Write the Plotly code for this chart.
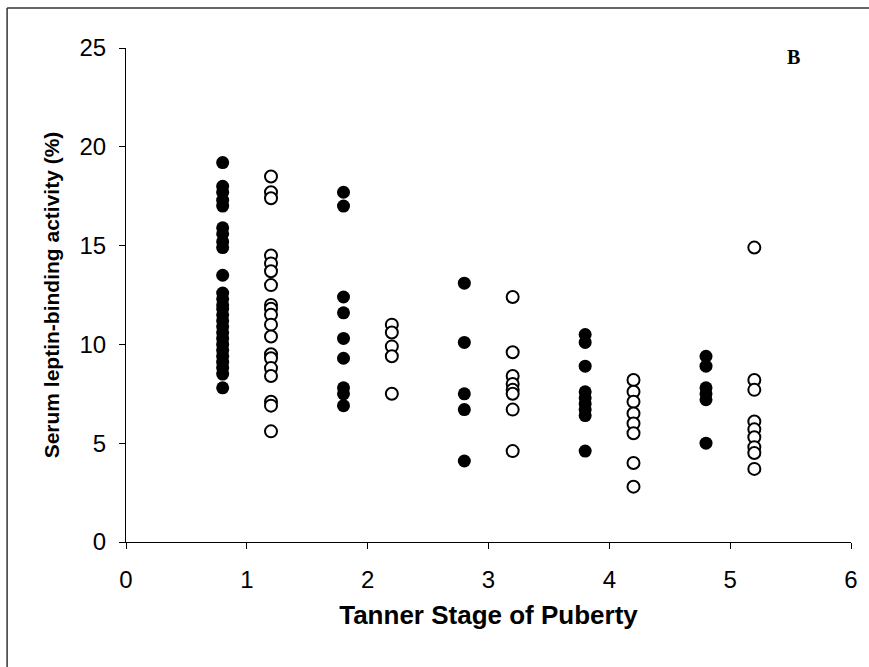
import plotly.graph_objects as go

# Tanner stage groups: filled = one sex, open = the other (offset around each stage)
filled_x = [0.8, 1.8, 2.8, 3.8, 4.8]
filled_y = [
    [19.2, 18.0, 17.7, 17.3, 17.0, 15.9, 15.6, 15.2, 14.9, 13.5,
     12.6, 12.3, 12.0, 11.8, 11.5, 11.2, 10.9, 10.6, 10.3, 10.0,
     9.7, 9.4, 9.1, 8.8, 8.5, 7.8],
    [17.7, 17.0, 12.4, 11.6, 10.3, 9.3, 7.8, 7.5, 6.9],
    [13.1, 10.1, 7.5, 6.7, 4.1],
    [10.5, 10.1, 8.9, 7.6, 7.3, 7.0, 6.7, 6.4, 4.6],
    [9.4, 8.9, 7.8, 7.5, 7.2, 5.0],
]
open_x = [1.2, 2.2, 3.2, 4.2, 5.2]
open_y = [
    [18.5, 17.7, 17.4, 14.5, 14.1, 13.7, 13.0, 12.0, 11.8, 11.5,
     11.0, 10.4, 9.5, 9.3, 8.8, 8.4, 7.1, 6.9, 5.6],
    [11.0, 10.6, 9.9, 9.4, 7.5],
    [12.4, 9.6, 8.4, 8.0, 7.7, 7.5, 6.7, 4.6],
    [8.2, 7.6, 7.1, 6.5, 6.0, 5.5, 4.0, 2.8],
    [14.9, 8.2, 7.7, 6.1, 5.7, 5.3, 4.8, 4.5, 3.7],
]
x_ticks = [0, 1, 2, 3, 4, 5, 6]
y_ticks = [0, 5, 10, 15, 20, 25]

SANS = "Arial, Liberation Sans, sans-serif"


def flatten(xs, ys):
    px, py = [], []
    for x, col in zip(xs, ys):
        px += [x] * len(col)
        py += col
    return px, py


fig = go.Figure()
fx, fy = flatten(filled_x, filled_y)
ox, oy = flatten(open_x, open_y)
fig.add_trace(go.Scatter(x=fx, y=fy, mode="markers", showlegend=False,
                         marker=dict(symbol="circle", size=13, color="black",
                                     line=dict(color="black", width=0))))
fig.add_trace(go.Scatter(x=ox, y=oy, mode="markers", showlegend=False,
                         marker=dict(symbol="circle", size=12, color="white",
                                     line=dict(color="black", width=2))))

axis_kw = dict(showgrid=False, zeroline=False, showline=True, linecolor="black",
               linewidth=1, ticks="outside", ticklen=6, tickcolor="black",
               tickfont=dict(family=SANS, size=24, color="black"))
fig.update_xaxes(range=[0, 6], tickvals=x_ticks, ticklabelstandoff=10, **axis_kw,
                 title=dict(text="<b>Tanner Stage of Puberty</b>", standoff=14,
                            font=dict(family=SANS, size=26, color="black")))
fig.update_yaxes(range=[0, 25], tickvals=y_ticks, ticklabelstandoff=8, **axis_kw,
                 title=dict(text="<b>Serum leptin-binding activity (%)</b>", standoff=14,
                            font=dict(family=SANS, size=21, color="black")))

fig.update_layout(
    width=869, height=667,
    margin=dict(l=126, r=18, t=48, b=125),
    paper_bgcolor="white", plot_bgcolor="white",
    annotations=[dict(text="<b>B</b>", x=0.92, y=0.982, xref="paper", yref="paper",
                      xanchor="center", yanchor="middle", showarrow=False,
                      font=dict(family="Liberation Serif, Times New Roman", size=20,
                                color="black"))],
    shapes=[
        # frame round the figure: only left and top edges show in the scan
        dict(type="line", xref="paper", yref="paper", x0=-0.164, x1=-0.164,
             y0=-0.27, y1=1.081, line=dict(color="#333", width=1.5)),
        dict(type="line", xref="paper", yref="paper", x0=-0.164, x1=1.03,
             y0=1.081, y1=1.081, line=dict(color="#333", width=1.5)),
    ],
)

fig.write_html("out.html", config={"displayModeBar": False},
               post_script="document.body.style.margin='0';")
